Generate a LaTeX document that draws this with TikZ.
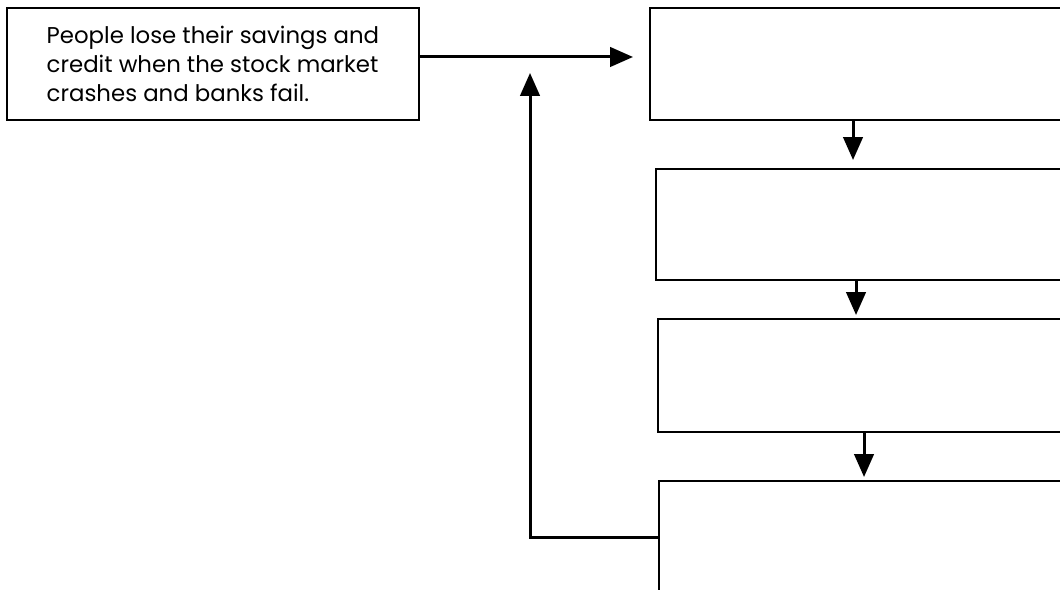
\documentclass[tikz,border=0pt]{standalone}
\usepackage{fontspec}
\setmainfont{Poppins}
\usetikzlibrary{arrows.meta,calc}
\tikzset{
  box/.style={draw, line width=1.1pt, anchor=north west, minimum width=9cm, inner sep=0pt, outer sep=0pt},
  arr/.style={line width=1.7pt, -{Triangle[length=13pt,width=11pt]}}
}
\begin{document}
\begin{tikzpicture}[x=0.02cm,y=-0.02cm]
\useasboundingbox (0,0) rectangle (1060,590);
\clip (0,0) rectangle (1060,590);

\node[box, minimum width=8.24cm, minimum height=2.24cm, align=left, font=\fontsize{13}{16.7}\selectfont] (loss) at (7,8) {People lose their savings and\\credit when the stock market\\crashes and banks fail.};

\node[box, minimum height=2.24cm] (b1) at (650,8) {};
\node[box, minimum height=2.22cm] (b2) at (656,169) {};
\node[box, minimum height=2.26cm] (b3) at (658,319) {};
\node[box, minimum height=2.28cm] (b4) at (659,481) {};

\draw[arr] ($(loss.east)+(0,-7)$) -- ($(b1.west)+(-17,-7)$);

\draw[arr] ($(b1.south west)+(203,0)$) -- ($(b2.north west)+(197,-9)$);
\draw[arr] ($(b2.south west)+(200,0)$) -- ($(b3.north west)+(198,-4)$);
\draw[arr] ($(b3.south west)+(206,0)$) -- ($(b4.north west)+(205,-4)$);

\coordinate (up) at (530,73);
\draw[arr] (b4.west) -| (up);

\end{tikzpicture}
\end{document}
